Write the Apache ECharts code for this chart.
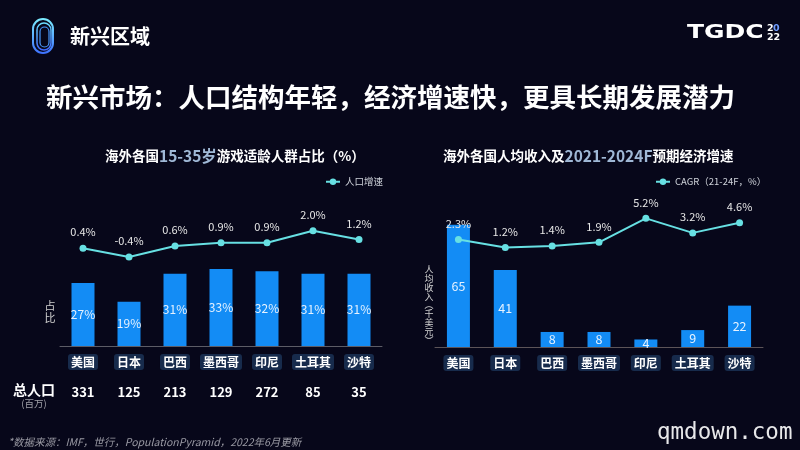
<!DOCTYPE html>
<html><head><meta charset="utf-8">
<script src="https://cdn.jsdelivr.net/npm/echarts@6/dist/echarts.min.js"></script>
<style>html,body{margin:0;padding:0;background:#07071a;}#c{width:800px;height:450px;}</style>
</head><body><div id="c"></div>
<script>
const countries = ['美国','日本','巴西','墨西哥','印尼','土耳其','沙特'];
const youthShare = [27,19,31,33,32,31,31];
const popGrowth = [0.4,-0.4,0.6,0.9,0.9,2.0,1.2];
const population = [331,125,213,129,272,85,35];
const incomePerCapita = [65,41,8,8,4,9,22];
const gdpCagr = [2.3,1.2,1.4,1.9,5.2,3.2,4.6];

const FONT = '"Noto Sans CJK SC", "Noto Sans", sans-serif';
const BAR = '#138cf5';
const LINE = '#67e0e3';

const chart = echarts.init(document.getElementById('c'));

const catLabel = {
  color: '#ffffff', fontWeight: 'bold', fontSize: 12, fontFamily: FONT,
  backgroundColor: 'rgba(40,80,125,0.5)', borderRadius: 3, padding: [2,3,2,3],
  margin: 8, interval: 0
};

const option = {
  backgroundColor: '#07071a',
  textStyle: { fontFamily: FONT },
  animation: false,
  title: [
    { text: '{a|海外各国}{b|15-35岁}{a|游戏适龄人群占比（%）}', left: 105, top: 148, padding: 0,
      textStyle: { rich: {
        a: { color: '#fff', fontSize: 13.5, fontWeight: 'bold', fontFamily: FONT },
        b: { color: '#9fb8d6', fontSize: 15.5, fontWeight: 'bold', fontFamily: FONT } } } },
    { text: '{a|海外各国人均收入及}{b|2021-2024F}{a|预期经济增速}', left: 443, top: 148, padding: 0,
      textStyle: { rich: {
        a: { color: '#fff', fontSize: 13.5, fontWeight: 'bold', fontFamily: FONT },
        b: { color: '#9fb8d6', fontSize: 15.5, fontWeight: 'bold', fontFamily: FONT } } } }
  ],
  legend: [
    { data: ['人口增速'], left: 325, top: 177, padding: 0, itemWidth: 14, itemHeight: 8, itemGap: 4,
      textStyle: { color: '#cfd3da', fontSize: 9.5, fontFamily: FONT } },
    { data: ['CAGR（21-24F，%）'], left: 655, top: 177, padding: 0, itemWidth: 14, itemHeight: 8, itemGap: 4,
      textStyle: { color: '#cfd3da', fontSize: 9.5, fontFamily: FONT } }
  ],
  grid: [
    { left: 60, right: 418, top: 206, bottom: 104 },
    { left: 435, right: 37, top: 206, bottom: 103 }
  ],
  xAxis: [
    { type: 'category', gridIndex: 0, data: countries,
      axisLine: { lineStyle: { color: '#5c5c66' } }, axisTick: { show: false }, axisLabel: catLabel },
    { type: 'category', gridIndex: 0, data: population, position: 'bottom', offset: 32,
      axisLine: { show: false }, axisTick: { show: false },
      axisLabel: { color: '#fff', fontWeight: 'bold', fontSize: 13, fontFamily: FONT, interval: 0, margin: 8 } },
    { type: 'category', gridIndex: 1, data: countries,
      axisLine: { lineStyle: { color: '#5c5458' } }, axisTick: { show: false }, axisLabel: catLabel }
  ],
  yAxis: [
    { type: 'value', gridIndex: 0, min: 0, max: 60, show: false },
    { type: 'value', gridIndex: 0, min: -8.5, max: 4.25, show: false },
    { type: 'value', gridIndex: 1, min: 0, max: 75, show: false },
    { type: 'value', gridIndex: 1, min: -12.5, max: 6.9, show: false }
  ],
  series: [
    { name: '占比', type: 'bar', xAxisIndex: 0, yAxisIndex: 0, data: youthShare, barWidth: 23,
      itemStyle: { color: BAR },
      label: { show: true, position: 'inside', color: '#e6f2ff', fontSize: 12, formatter: p => p.value + '%' } },
    { name: '人口增速', type: 'line', xAxisIndex: 0, yAxisIndex: 1, data: popGrowth,
      symbol: 'circle', symbolSize: 7, itemStyle: { color: LINE }, lineStyle: { color: LINE, width: 2 },
      label: { show: true, position: 'top', distance: 7, color: '#e6e6e6', fontSize: 11, formatter: p => p.value.toFixed(1) + '%' } },
    { name: '人均收入', type: 'bar', xAxisIndex: 2, yAxisIndex: 2, data: incomePerCapita, barWidth: 23,
      itemStyle: { color: BAR },
      label: { show: true, position: 'inside', color: '#e6f2ff', fontSize: 12.5 } },
    { name: 'CAGR（21-24F，%）', type: 'line', xAxisIndex: 2, yAxisIndex: 3, data: gdpCagr,
      symbol: 'circle', symbolSize: 7, itemStyle: { color: LINE }, lineStyle: { color: LINE, width: 2 },
      label: { show: true, position: 'top', distance: 7, color: '#e6e6e6', fontSize: 11, formatter: p => p.value.toFixed(1) + '%' } }
  ],
  graphic: [
    // logo
    { type: 'rect', shape: { x: 33, y: 19, width: 20, height: 34, r: 10 },
      style: { fill: 'none', lineWidth: 2, stroke: new echarts.graphic.LinearGradient(0,0,0,1,[{offset:0,color:'#7ff3ff'},{offset:1,color:'#3a6bff'}]) } },
    { type: 'rect', shape: { x: 37, y: 23, width: 14, height: 27, r: 7 },
      style: { fill: 'none', lineWidth: 1.5, stroke: new echarts.graphic.LinearGradient(0,0,0,1,[{offset:0,color:'#6fe8ff'},{offset:1,color:'#3a5cff'}]) } },
    { type: 'rect', shape: { x: 40, y: 27, width: 9, height: 20, r: 4.5 },
      style: { fill: 'none', lineWidth: 1.2, stroke: '#4a9aff' } },
    { type: 'text', style: { text: '新兴区域', x: 70, y: 36, fill: '#fff', font: 'bold 20px ' + FONT, align: 'left', verticalAlign: 'middle' } },
    { type: 'text', x: 687, y: 33, scaleX: 1.25, scaleY: 1,
      style: { text: 'TGDC', x: 0, y: 0, fill: '#fff', font: 'bold 20px "DejaVu Sans", sans-serif', align: 'left', verticalAlign: 'middle' } },
    { type: 'text', style: { text: '2', x: 767, y: 29, fill: '#fff', font: 'bold 9.5px "DejaVu Sans", sans-serif', align: 'left', verticalAlign: 'middle' } },
    { type: 'text', style: { text: '0', x: 773, y: 29, fill: '#6f9cff', font: 'bold 9.5px "DejaVu Sans", sans-serif', align: 'left', verticalAlign: 'middle' } },
    { type: 'text', style: { text: '22', x: 767, y: 37.5, fill: '#fff', font: 'bold 9.5px "DejaVu Sans", sans-serif', align: 'left', verticalAlign: 'middle' } },
    // headline
    { type: 'text', style: { text: '新兴市场：人口结构年轻，经济增速快，更具长期发展潜力', x: 46, y: 97, fill: '#fff', font: 'bold 26.5px ' + FONT, align: 'left', verticalAlign: 'middle' } },
    // axis names
    { type: 'text', style: { text: '占\n比', x: 50, y: 312, fill: '#d0d0d0', font: '11px ' + FONT, align: 'center', verticalAlign: 'middle', lineHeight: 11.5 } },
    { type: 'text', style: { text: '人\n均\n收\n入\n︵\n千\n美\n元\n︶', x: 429, y: 305, fill: '#d0d0d0', font: '9px ' + FONT, align: 'center', verticalAlign: 'middle', lineHeight: 8.8 } },
    // population row header
    { type: 'text', style: { text: '总人口', x: 34, y: 390, fill: '#fff', font: 'bold 14px ' + FONT, align: 'center', verticalAlign: 'middle' } },
    { type: 'text', style: { text: '(百万)', x: 34, y: 403, fill: '#a0a0a8', font: '9.5px ' + FONT, align: 'center', verticalAlign: 'middle' } },
    // footnote
    { type: 'text', style: { text: '*数据来源：IMF，世行，PopulationPyramid，2022年6月更新', x: 8, y: 442, fill: '#9a9aa4', font: 'italic 10.5px ' + FONT, align: 'left', verticalAlign: 'middle' } },
    // watermark
    { type: 'text', style: { text: 'qmdown.com', x: 657, y: 433, fill: '#e8e8ea', font: '22.5px "DejaVu Sans Mono", monospace', align: 'left', verticalAlign: 'middle' } }
  ]
};
chart.setOption(option);
</script>
</body></html>
